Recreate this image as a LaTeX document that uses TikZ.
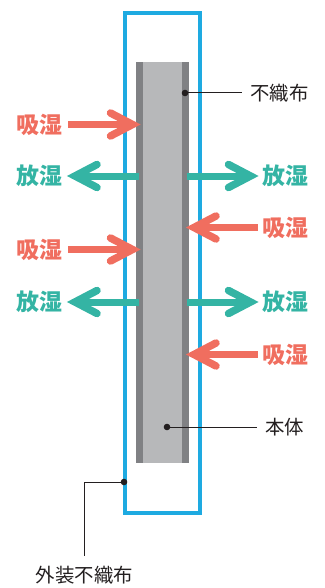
\documentclass[tikz,border=0pt]{standalone}
\usepackage{fontspec}
\newfontfamily\jp{Noto Sans CJK JP}
\definecolor{wetred}{RGB}{240,110,95}
\definecolor{dryteal}{RGB}{52,180,164}
\definecolor{wrapblue}{RGB}{30,170,225}
\definecolor{bodylight}{RGB}{183,184,186}
\definecolor{bodydark}{RGB}{128,129,132}
\definecolor{leader}{RGB}{35,31,32}
\tikzset{
  shaft/.style={line width=7bp},
  chevron/.style={line width=7.5bp, line cap=round, line join=miter},
  moist/.style={font=\jp\bfseries\fontsize{23}{23}\selectfont, inner sep=0pt},
  tag/.style={font=\jp\fontsize{19.5}{20}\selectfont, text=leader, inner sep=0pt},
  leadline/.style={draw=leader, line width=1bp},
  leaddot/.style={fill=leader},
}
\newcommand\rarrow[4]{%
  \draw[#1, shaft] (#2,#4) -- (#3-7,#4);
  \draw[#1, chevron] (#3-29,#4-11.5) -- (#3-7,#4) -- (#3-29,#4+11.5);
}
\newcommand\larrow[4]{%
  \draw[#1, shaft] (#2,#4) -- (#3+7,#4);
  \draw[#1, chevron] (#3+29,#4-11.5) -- (#3+7,#4) -- (#3+29,#4+11.5);
}
\begin{document}
\begin{tikzpicture}[x=1bp,y=-1bp]
\useasboundingbox (0,0) rectangle (324,588);
% body
\fill[bodylight] (136,62) rectangle (189,463);
\fill[bodydark] (136,62) rectangle (143,463);
\fill[bodydark] (182,62) rectangle (189,463);
% outer wrapper
\draw[wrapblue, line width=3.6bp] (125,13) rectangle (199.7,513);

% arrows
\rarrow{wetred}{68}{139.5}{124.5}
\node[moist, text=wetred, anchor=east] (a1) at (63,124.5) {吸湿};

\larrow{dryteal}{139}{68}{176}
\node[moist, text=dryteal, anchor=east] (a2) at (63,176) {放湿};
\rarrow{dryteal}{187}{257.5}{176}
\node[moist, text=dryteal, anchor=west] (a3) at (262,176) {放湿};

\larrow{wetred}{257.5}{187}{227.5}
\node[moist, text=wetred, anchor=west] (a4) at (262,227.5) {吸湿};

\rarrow{wetred}{68}{139.5}{249.5}
\node[moist, text=wetred, anchor=east] (a5) at (63,249.5) {吸湿};

\larrow{dryteal}{139}{68}{302}
\node[moist, text=dryteal, anchor=east] (a6) at (63,302) {放湿};
\rarrow{dryteal}{187}{257.5}{302}
\node[moist, text=dryteal, anchor=west] (a7) at (262,302) {放湿};

\larrow{wetred}{257.5}{187}{354.5}
\node[moist, text=wetred, anchor=west] (a8) at (262,354.5) {吸湿};

% labels
\coordinate (nwdot) at (185,93);
\node[tag, anchor=west] (nw) at (250,93) {不織布};
\draw[leadline] (nwdot) -- ([xshift=-8bp]nw.west);
\fill[leaddot] (nwdot) circle (3.3bp);

\coordinate (bodydot) at (167,427);
\node[tag, anchor=west] (bodytag) at (265,427) {本体};
\draw[leadline] (bodydot) -- ([xshift=-8bp]bodytag.west);
\fill[leaddot] (bodydot) circle (3.3bp);

\coordinate (wrapdot) at (124,482);
\coordinate (wrapbend) at (84,556);
\node[tag] (wraptag) at (84.5,575) {外装不織布};
\draw[leadline] (wrapdot) -| (wrapbend);
\fill[leaddot] (wrapdot) circle (3.3bp);
\end{tikzpicture}
\end{document}
